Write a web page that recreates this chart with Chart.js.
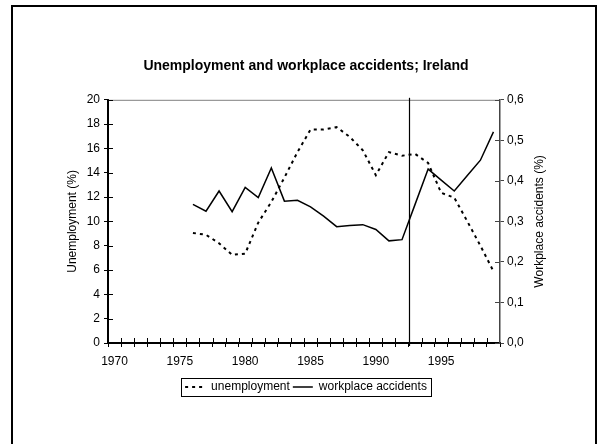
<!DOCTYPE html>
<html>
<head>
<meta charset="utf-8">
<script src="https://cdn.jsdelivr.net/npm/chart.js@4.4.1/dist/chart.umd.min.js"></script>
<style>
  html, body { margin: 0; padding: 0; background: #fff; }
  #wrap { position: relative; width: 600px; height: 444px; overflow: hidden; }
  #frame { position: absolute; left: 11px; top: 5px; width: 586px; height: 450px; border: 2px solid #000; border-bottom: none; box-sizing: border-box; }
  canvas { position: absolute; left: 0; top: 0; }
</style>
</head>
<body>
<div id="wrap">
  <div id="frame"></div>
  <canvas id="chart" width="600" height="444"></canvas>
</div>
<script>
// values
const years = ['1970', '1971', '1972', '1973', '1974', '1975', '1976', '1977', '1978', '1979',
               '1980', '1981', '1982', '1983', '1984', '1985', '1986', '1987', '1988', '1989',
               '1990', '1991', '1992', '1993', '1994', '1995', '1996', '1997', '1998', '1999'];

const unemployment = [null, null, null, null, null, null,
  9.05, 8.9, 8.2, 7.25, 7.35, 9.9, 11.6, 13.6, 15.7, 17.55, 17.55, 17.75,
  16.95, 15.85, 13.8, 15.7, 15.4, 15.55, 14.8, 12.35, 11.95, 10.0, 8.0, 5.9];

const accidents = [null, null, null, null, null, null,
  0.342, 0.325, 0.375, 0.324, 0.384, 0.359, 0.432, 0.350, 0.352, 0.336, 0.313, 0.287,
  0.290, 0.292, 0.280, 0.252, 0.255, 0.342, 0.429, 0.402, 0.375, 0.413, 0.451, 0.521];

// vertical marker sits between these two years
const markerBetween = ['1992', '1993'];

const font = 'Liberation Sans, Arial, sans-serif';

// extra drawing: gray top border, inward tick marks, marker line, right axis title
const extras = {
  id: 'extras',
  afterDraw(chart) {
    const { ctx, chartArea: a, scales } = chart;
    ctx.save();

    ctx.strokeStyle = '#808080';
    ctx.lineWidth = 1;
    ctx.beginPath();
    ctx.moveTo(a.left, a.top + 0.5);
    ctx.lineTo(a.right, a.top + 0.5);
    ctx.stroke();

    ctx.strokeStyle = '#000';
    ctx.beginPath();
    scales.y.ticks.forEach((t, i) => {
      const py = Math.round(scales.y.getPixelForTick(i)) + 0.5;
      ctx.moveTo(a.left, py);
      ctx.lineTo(a.left + 5, py);
    });
    const half = (scales.x.getPixelForValue(1) - scales.x.getPixelForValue(0)) / 2;
    for (let i = 1; i < years.length; i++) {
      const px = Math.round(scales.x.getPixelForValue(i) - half) + 0.5;
      ctx.moveTo(px, a.bottom);
      ctx.lineTo(px, a.bottom - 5);
    }
    ctx.stroke();

    ctx.strokeStyle = '#444';
    ctx.beginPath();
    scales.y2.ticks.forEach((t, i) => {
      const py = Math.round(scales.y2.getPixelForTick(i)) + 0.5;
      ctx.moveTo(a.right, py);
      ctx.lineTo(a.right - 5, py);
    });
    ctx.stroke();

    // marker line
    const mx = Math.round((scales.x.getPixelForValue(years.indexOf(markerBetween[0])) +
                           scales.x.getPixelForValue(years.indexOf(markerBetween[1]))) / 2) + 0.5;
    ctx.strokeStyle = '#000';
    ctx.lineWidth = 1.2;
    ctx.beginPath();
    ctx.moveTo(mx, a.top - 2);
    ctx.lineTo(mx, a.bottom + 3);
    ctx.stroke();

    // right axis title, reading bottom to top
    ctx.fillStyle = '#000';
    ctx.font = '12px ' + font;
    ctx.textAlign = 'center';
    ctx.textBaseline = 'middle';
    ctx.translate(540, (a.top + a.bottom) / 2);
    ctx.rotate(-Math.PI / 2);
    ctx.fillText('Workplace accidents (%)', 0, 0);
    ctx.restore();

    // border round the legend
    const boxes = chart.legend.legendHitBoxes;
    if (boxes && boxes.length) {
      const l = Math.min(...boxes.map(b => b.left)) - 4;
      const r = Math.max(...boxes.map(b => b.left + b.width)) + 4;
      const t = Math.min(...boxes.map(b => b.top)) - 3;
      const bt = Math.max(...boxes.map(b => b.top + b.height)) + 3;
      ctx.save();
      ctx.strokeStyle = '#000';
      ctx.lineWidth = 1;
      ctx.strokeRect(Math.round(l) + 0.5, Math.round(t) + 0.5, Math.round(r - l), Math.round(bt - t));
      ctx.restore();
    }
  }
};

const ctx = document.getElementById('chart').getContext('2d');
const chart = new Chart(ctx, {
  type: 'line',
  data: {
    labels: years,
    datasets: [{
      label: 'unemployment',
      data: unemployment,
      yAxisID: 'y',
      borderColor: '#000',
      backgroundColor: '#000',
      borderWidth: 2,
      borderDash: [3, 4],
      pointRadius: 0,
      tension: 0,
      fill: false
    }, {
      label: 'workplace accidents',
      data: accidents,
      yAxisID: 'y2',
      borderColor: '#000',
      backgroundColor: '#000',
      borderWidth: 1.5,
      pointRadius: 0,
      tension: 0,
      fill: false
    }]
  },
  options: {
    responsive: false,
    animation: false,
    layout: {
      padding: { left: 12, right: 0, top: 0, bottom: 41 }
    },
    plugins: {
      title: {
        display: true,
        text: 'Unemployment and workplace accidents; Ireland',
        color: '#000',
        font: { family: font, size: 14, weight: 'bold' },
        padding: { top: 58, bottom: 25 }
      },
      legend: {
        position: 'bottom',
        labels: {
          color: '#000',
          font: { family: font, size: 12 },
          usePointStyle: true,
          pointStyle: 'line',
          pointStyleWidth: 20,
          boxHeight: 6,
          padding: 3,
          // point-style items lose the dataset dash, so copy it back
          generateLabels: chart => Chart.defaults.plugins.legend.labels.generateLabels(chart)
            .map((item, i) => Object.assign(item, {
              lineDash: chart.data.datasets[i].borderDash || [],
              lineWidth: chart.data.datasets[i].borderWidth
            }))
        }
      },
      tooltip: { enabled: false }
    },
    scales: {
      x: {
        type: 'category',
        offset: true,
        afterFit: s => { s.height = 35; },
        grid: {
          display: true,
          drawOnChartArea: false,
          offset: true,
          color: '#000',
          tickLength: 4
        },
        border: { color: '#000', width: 2 },
        ticks: {
          color: '#000',
          font: { family: font, size: 12 },
          autoSkip: false,
          maxRotation: 0,
          padding: 7,
          callback: function (v) {
            const lab = this.getLabelForValue(v);
            return Number(lab) % 5 === 0 ? lab : '';
          }
        }
      },
      y: {
        position: 'left',
        min: 0,
        max: 20,
        afterFit: s => { s.width = 96; },
        grid: { drawOnChartArea: false, color: '#000', tickLength: 4 },
        border: { color: '#000', width: 2 },
        ticks: {
          stepSize: 2,
          color: '#000',
          font: { family: font, size: 12 },
          padding: 4
        },
        title: {
          display: true,
          text: 'Unemployment (%)',
          color: '#000',
          font: { family: font, size: 12 },
          padding: { top: 53, bottom: 0 }
        }
      },
      y2: {
        position: 'right',
        min: 0,
        max: 0.6,
        afterFit: s => { s.width = 100; },
        grid: { drawOnChartArea: false, color: '#444', tickLength: 4 },
        border: { color: '#444', width: 1.5 },
        ticks: {
          stepSize: 0.1,
          color: '#000',
          font: { family: font, size: 12 },
          padding: 3,
          callback: v => v.toFixed(1).replace('.', ',')
        }
      }
    }
  },
  plugins: [extras]
});
</script>
</body>
</html>
